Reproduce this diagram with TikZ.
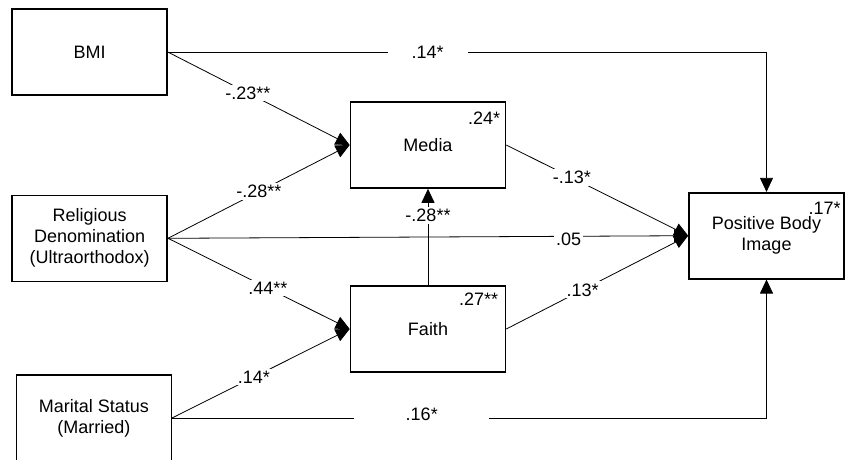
\documentclass[tikz,border=0pt]{standalone}
\usepackage{fontspec}
\setmainfont{Liberation Sans}
\usetikzlibrary{arrows.meta,positioning}

\tikzset{
 var/.style={draw,line width=1.6pt,minimum width=155pt,minimum height=86pt,align=center,inner sep=0pt},
 lnk/.style={line width=0.8pt,-{Triangle[length=14pt,width=13pt]}},
 coef/.style={fill=white,inner sep=2pt},
 rsq/.style={anchor=north east,inner sep=2pt}
}

\begin{document}
\begin{tikzpicture}[x=1pt,y=-1pt,font=\fontsize{18}{21}\selectfont]
 \useasboundingbox (0,0) rectangle (847,459);
 \clip (0,0) rectangle (847,459);
 % coordinates
 \coordinate (c0) at (89.5,52);
 \coordinate (c1) at (89.7,238.3);
 \coordinate (c2) at (93.8,418);
 \coordinate (c3) at (428,145);
 \coordinate (c4) at (428,329);
 \coordinate (c5) at (766.5,235.7);

 % variables
 \node (bmi) at (c0) [var] {BMI};
 \node (rel) at (c1) [var] {Religious\\Denomination\\(Ultraorthodox)};
 \node (mar) at (c2) [var] {Marital Status\\(Married)};
 \node (media) at (c3) [var] {Media};
 \node (faith) at (c4) [var] {Faith};
 \node (pbi) at (c5) [var] {Positive Body\\Image};

 % r squared
 \node (r0) at (media.north east) [rsq,xshift=-4pt,yshift=-9pt] {.24*};
 \node (r1) at (faith.north east) [rsq,xshift=-6pt,yshift=-6pt] {.27**};
 \node (r2) at (pbi.north east) [rsq,xshift=-2pt,yshift=-8pt] {.17*};

 % corners
 \coordinate (k0) at (bmi.east -| pbi.north);
 \coordinate (k1) at (mar.east -| pbi.south);

 % connectors
 \draw[lnk] (bmi.east) -- node[coef,pos=0.44] {-.23**} (media.west);
 \draw[lnk] (rel.east) -- node[coef,pos=0.5] {-.28**} (media.west);
 \draw[lnk] (rel.east) -- node[coef,pos=0.55] {.44**} (faith.west);
 \draw[lnk] (mar.east) -- node[coef,pos=0.46] {.14*} (faith.west);
 \draw[lnk] (faith.north) -- node[coef,pos=0.72] {-.28**} (media.south);
 \draw[lnk] (media.east) -- node[coef,pos=0.36] {-.13*} (pbi.west);
 \draw[lnk] (faith.east) -- node[coef,pos=0.42] {.13*} (pbi.west);
 \draw[lnk] (rel.east) -- node[coef,pos=0.77,yshift=-3pt] {.05} (pbi.west);
 \draw[lnk] (bmi.east) -- node[coef,pos=0.434,minimum width=80pt] {.14*} (k0) -- (pbi.north);
 \draw[lnk] (mar.east) -- node[coef,pos=0.42,minimum width=135pt,yshift=4pt] {.16*} (k1) -- (pbi.south);
\end{tikzpicture}
\end{document}
